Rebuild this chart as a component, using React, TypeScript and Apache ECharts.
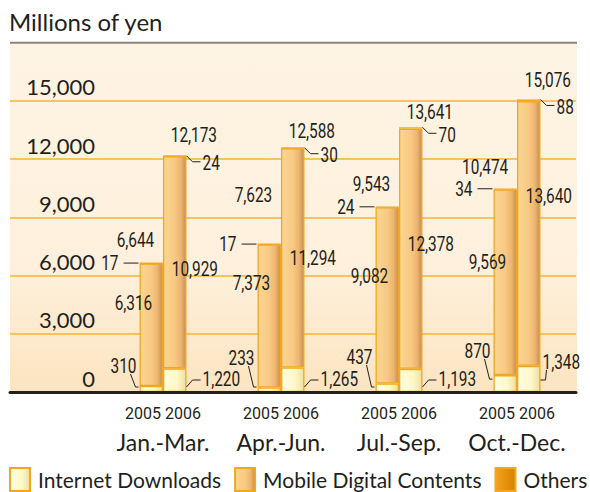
import { useEffect, useRef } from 'react';
import * as echarts from 'echarts';

// ---- data ----
const quarters = ['Jan.-Mar.', 'Apr.-Jun.', 'Jul.-Sep.', 'Oct.-Dec.'];
const years = ['2005', '2006'];
const seriesNames = ['Internet Downloads', 'Mobile Digital Contents', 'Others'];
const internet2005 = [310, 233, 437, 870];
const mobile2005 = [6316, 7373, 9082, 9569];
const others2005 = [17, 17, 24, 34];
const total2005 = [6644, 7623, 9543, 10474];
const internet2006 = [1220, 1265, 1193, 1348];
const mobile2006 = [10929, 11294, 12378, 13640];
const others2006 = [24, 30, 70, 88];
const total2006 = [12173, 12588, 13641, 15076];
const yAxisMax = 18000;
const yAxisStep = 3000;

// ---- layout (label placement, px / fractions) ----
const totalLift = [[23, 49, 23, 22], [21, 17, 16, 20]];
const mobileLabelAt = [[0.69, 0.74, 0.63, 0.64], [0.52, 0.55, 0.56, 0.67]];
const internetLift2005 = [26, 34, 35, 41];

const BAR_W = 23.5;
const INK = '#231F20';
const NUM_FONT = 'Roboto, "Liberation Sans", sans-serif';
const MAIN = 'Lato, "Open Sans", "Noto Sans", sans-serif';
const GRID_LINE = '#F5B335';
const BAR_BORDER = '#F2A71E';
const NARROW_SCALE = 0.77;

const fmt = (n: number) => n.toLocaleString('en-US');

export default function App() {
  const ref = useRef<HTMLDivElement>(null);
  useEffect(() => {
    if (!ref.current) return;
    const chart = echarts.init(ref.current, undefined, { renderer: 'svg' });
    const G = echarts.graphic;
    const mobileColor = new G.LinearGradient(0, 0, 1, 0, [
      { offset: 0, color: '#FAD694' },
      { offset: 0.5, color: '#F8C982' },
      { offset: 0.78, color: '#EDB570' },
      { offset: 1, color: '#C88E50' },
    ]);
    const internetColor = new G.LinearGradient(0, 0, 1, 0, [
      { offset: 0, color: '#FFFDE2' },
      { offset: 0.6, color: '#FFF8C8' },
      { offset: 1, color: '#EEDFA0' },
    ]);
    const othersColor = new G.LinearGradient(0, 0, 1, 0, [
      { offset: 0, color: '#F6A11E' },
      { offset: 1, color: '#D68300' },
    ]);
    const colors = [internetColor, mobileColor, othersColor];

    const bar = (name: string, stack: string, data: number[], color: any) => ({
      type: 'bar',
      name,
      stack,
      data,
      xAxisIndex: 1,
      yAxisIndex: 1,
      barWidth: BAR_W,
      barGap: '0%',
      itemStyle: { color, borderColor: BAR_BORDER, borderWidth: 1.3 },
      emphasis: { disabled: true },
      z: 3,
    });

    const annoData: number[][] = [];
    quarters.forEach((_, i) => {
      annoData.push([i, 0, internet2005[i], mobile2005[i], others2005[i], total2005[i]]);
      annoData.push([i, 1, internet2006[i], mobile2006[i], others2006[i], total2006[i]]);
    });

    const renderAnno = (_params: any, api: any) => {
      const q = Math.round(api.value(0));
      const yr = Math.round(api.value(1));
      const vInt = api.value(2);
      const vMob = api.value(3);
      const vOth = api.value(4);
      const vTot = api.value(5);
      const base = api.coord([q, 0]);
      const cx = base[0];
      const y0 = base[1];
      const left = yr === 0 ? cx - BAR_W : cx;
      const right = left + BAR_W;
      const bc = left + BAR_W / 2;
      const yTop = api.coord([q, vInt + vMob + vOth])[1];
      const yInt = api.coord([q, vInt])[1];
      const txt = (s: string, x: number, y: number, align: string) => ({
        type: 'text',
        silent: true,
        x,
        y,
        scaleX: NARROW_SCALE,
        style: { text: s, x: 0, y: 0, align, verticalAlign: 'middle', fontFamily: NUM_FONT, fontSize: 20, fill: INK },
      });
      const line = (pts: number[][]) => ({
        type: 'polyline',
        silent: true,
        shape: { points: pts },
        style: { stroke: INK, lineWidth: 1, fill: 'none' },
      });
      const children: any[] = [];
      const ym = y0 - mobileLabelAt[yr][q] * (y0 - yTop);
      if (yr === 0) {
        children.push(txt(fmt(vTot), bc + 3, yTop - totalLift[0][q], 'right'));
        children.push(line([[left - 16, yTop], [left - 1, yTop]]));
        children.push(txt(fmt(vOth), left - 21, yTop, 'right'));
        children.push(txt(fmt(vMob), bc + 1, ym, 'right'));
        const ty = y0 - internetLift2005[q];
        children.push(txt(fmt(vInt), left - 3, ty, 'right'));
        const ye = Math.min(y0 - 5, yInt + 4);
        children.push(line([[left - 9, ty + 8], [left - 4, ye], [left - 1, ye]]));
      } else {
        children.push(txt(fmt(vTot), bc - 4, yTop - totalLift[1][q], 'left'));
        children.push(line([[right, yTop], [right + 6, yTop + 6], [right + 14, yTop + 6]]));
        children.push(txt(fmt(vOth), right + 16, yTop + 7, 'left'));
        children.push(txt(fmt(vMob), bc - 3, ym, 'left'));
        if (q < 3) {
          children.push(line([[right, y0 - 5], [right + 6, y0 - 12], [right + 14, y0 - 12]]));
          children.push(txt(fmt(vInt), right + 16, y0 - 13, 'left'));
        } else {
          children.push(line([[right, y0 - 12], [right + 5, y0 - 12], [right + 6, y0 - 22]]));
          children.push(txt(fmt(vInt), right + 2, y0 - 30, 'left'));
        }
      }
      return { type: 'group', children };
    };

    const yBase = {
      type: 'value',
      min: 0,
      max: yAxisMax,
      interval: yAxisStep,
      axisLine: { show: false },
      axisTick: { show: false },
      splitLine: { show: true, showMaxLine: false, showMinLine: false, lineStyle: { color: GRID_LINE, width: 1.5 } },
    };

    const option: any = {
      animation: false,
      title: {
        text: 'Millions of yen',
        left: 9,
        top: 9,
        padding: 0,
        textStyle: { fontFamily: MAIN, fontSize: 24, fontWeight: 'normal', color: INK },
      },
      graphic: [
        {
          type: 'rect',
          z: -10,
          silent: true,
          shape: { x: 10, y: 43.5, width: 567, height: 348.5 },
          style: {
            fill: new G.LinearGradient(0, 0, 0, 1, [
              { offset: 0, color: '#FEF4E4' },
              { offset: 0.65, color: '#FEF0DC' },
              { offset: 1, color: '#FCE4C0' },
            ]),
          },
        },
        {
          type: 'line',
          silent: true,
          shape: { x1: 10, y1: 42.7, x2: 577, y2: 42.7 },
          style: { stroke: '#8A837E', lineWidth: 2 },
        },
      ],
      grid: [
        { left: 10, width: 94, top: 42.7, bottom: 100, outerBoundsMode: 'none', containLabel: false },
        { left: 104, right: 14, top: 42.7, bottom: 100, outerBoundsMode: 'none', containLabel: false },
      ],
      xAxis: [
        {
          gridIndex: 0,
          type: 'category',
          data: [''],
          axisLine: { lineStyle: { color: INK, width: 3 } },
          axisTick: { show: false },
          axisLabel: { show: false },
          z: 5,
        },
        {
          gridIndex: 1,
          type: 'category',
          data: quarters,
          axisLine: { lineStyle: { color: INK, width: 3 } },
          axisTick: { show: false },
          axisLabel: {
            margin: 7,
            formatter: (v: string) => `{y|${years.join(' ')}}\n{q|${v}}`,
            rich: {
              y: { fontFamily: NUM_FONT, fontSize: 16, lineHeight: 28, color: INK },
              q: { fontFamily: MAIN, fontSize: 23, lineHeight: 30, color: INK },
            },
          },
          z: 5,
        },
      ],
      yAxis: [
        {
          ...yBase,
          gridIndex: 0,
          position: 'right',
          axisLabel: {
            inside: true,
            margin: 9,
            align: 'right',
            verticalAlign: 'bottom',
            padding: [0, 0, 3, 0],
            fontFamily: MAIN,
            fontSize: 22,
            color: INK,
            formatter: (v: number) => (v >= yAxisMax ? '' : fmt(v)),
          },
        },
        { ...yBase, gridIndex: 1, axisLabel: { show: false } },
      ],
      legend: {
        data: seriesNames,
        left: 9,
        top: 467,
        width: 590,
        padding: 0,
        icon: 'rect',
        itemWidth: 20,
        itemHeight: 23,
        itemGap: 13,
        selectedMode: false,
        textStyle: { fontFamily: MAIN, fontSize: 21, color: INK, padding: [0, 0, 0, 3] },
      },
      series: [
        bar(seriesNames[0], years[0], internet2005, colors[0]),
        bar(seriesNames[1], years[0], mobile2005, colors[1]),
        bar(seriesNames[2], years[0], others2005, colors[2]),
        bar(seriesNames[0], years[1], internet2006, colors[0]),
        bar(seriesNames[1], years[1], mobile2006, colors[1]),
        bar(seriesNames[2], years[1], others2006, colors[2]),
        {
          type: 'custom',
          xAxisIndex: 1,
          yAxisIndex: 1,
          data: annoData,
          encode: { x: 0, y: 5 },
          renderItem: renderAnno,
          clip: false,
          silent: true,
          z: 10,
        },
      ],
    };
    chart.setOption(option);
    return () => chart.dispose();
  }, []);
  return (
    <div
      ref={ref}
      style={{ position: 'fixed', left: 0, top: 0, width: 590, height: 492, background: '#ffffff' }}
    />
  );
}
